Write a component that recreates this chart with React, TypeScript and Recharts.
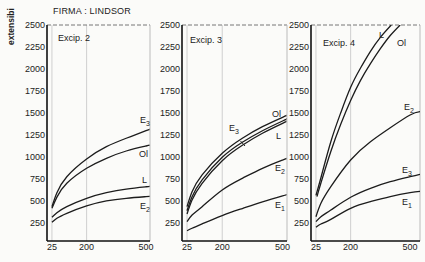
import React from 'react';
import { LineChart, Line, XAxis, YAxis, ReferenceLine } from 'recharts';

const FONT = "'Liberation Sans', Arial, sans-serif";

const yTicks = [250, 500, 750, 1000, 1250, 1500, 1750, 2000, 2250, 2500];
const xTicks = [25, 200, 500];

// Excip. 2
const xs2 = [25, 50, 100, 200, 300, 400, 500, 520];
const e3_2 = [431, 590, 772, 974, 1114, 1210, 1296, 1312];
const ol_2 = [412, 540, 697, 868, 982, 1065, 1122, 1133];
const l_2 = [310, 362, 431, 526, 590, 632, 658, 663];
const e2_2 = [253, 299, 355, 439, 496, 526, 545, 549];

// Excip. 3
const xs3 = [25, 50, 100, 200, 300, 400, 500, 520];
const ol_3 = [431, 601, 792, 1039, 1210, 1342, 1449, 1470];
const e3_3 = [385, 545, 735, 993, 1164, 1296, 1407, 1428];
const l_3 = [348, 507, 697, 955, 1130, 1267, 1380, 1401];
const e2_3 = [260, 336, 431, 621, 754, 868, 962, 980];
const e1_3 = [157, 185, 234, 330, 410, 485, 553, 566];

// Excip. 4
const xs4 = [25, 50, 100, 200, 300, 400, 500, 550];
const e1_4 = [196, 234, 287, 412, 488, 545, 590, 606];
const e3_4 = [260, 317, 393, 538, 640, 715, 772, 800];
const e2_4 = [317, 469, 658, 962, 1171, 1330, 1475, 1513];
const xsL4 = [25, 50, 100, 150, 200, 250, 300, 350, 405];
const l_4 = [560, 760, 1170, 1500, 1790, 2010, 2200, 2360, 2500];
const xsOl4 = [30, 50, 100, 150, 200, 250, 300, 350, 400, 450];
const ol_4 = [545, 700, 1060, 1370, 1640, 1870, 2060, 2230, 2380, 2500];

const pts = (xs: number[], ys: number[]) => xs.map((x, i) => ({ x, y: ys[i] }));

type PanelProps = {
  left: number;
  width: number;
  yAxisWidth: number;
  rightMargin: number;
  xMax: number;
  series: { x: number; y: number }[][];
};

function Panel({ left, width, yAxisWidth, rightMargin, xMax, series }: PanelProps) {
  const tickStyle = { fontSize: 9, fill: '#222', fontFamily: FONT };
  return (
    <div style={{ position: 'absolute', left, top: 0 }}>
      <LineChart width={width} height={262} margin={{ top: 25, right: rightMargin, bottom: 0, left: 0 }}>
        <XAxis
          type="number"
          dataKey="x"
          domain={[0, xMax]}
          ticks={xTicks}
          interval={0}
          allowDataOverflow
          height={21}
          tickLine={false}
          tickSize={0}
          tickMargin={3}
          axisLine={{ stroke: '#111', strokeWidth: 1.6 }}
          tick={tickStyle}
        />
        <YAxis
          type="number"
          domain={[40, 2500]}
          ticks={yTicks}
          interval={0}
          allowDataOverflow
          width={yAxisWidth}
          tickLine={false}
          tickSize={0}
          tickMargin={2}
          axisLine={{ stroke: '#111', strokeWidth: 1.6 }}
          tick={tickStyle}
        />
        <ReferenceLine x={25} stroke="#cfcfcf" />
        <ReferenceLine x={200} stroke="#cfcfcf" />
        <ReferenceLine y={2500} stroke="#777" strokeDasharray="4 2" />
        <ReferenceLine x={xMax} stroke="#bbb" />
        {series.map((s, i) => (
          <Line
            key={i}
            data={s}
            dataKey="y"
            type="natural"
            stroke="#1c1c1c"
            strokeWidth={1.3}
            dot={false}
            isAnimationActive={false}
          />
        ))}
      </LineChart>
    </div>
  );
}

function Sub({ x, y, base, sub }: { x: number; y: number; base: string; sub?: string }) {
  return (
    <text x={x} y={y} fontSize={9} fill="#222" fontFamily={FONT}>
      {base}
      {sub ? (
        <tspan fontSize={7} dy={3}>
          {sub}
        </tspan>
      ) : null}
    </text>
  );
}

export default function App() {
  return (
    <div style={{ position: 'absolute', left: 0, top: 0, width: 425, height: 262, background: '#fbfbf9', overflow: 'hidden' }}>
      <Panel
        left={0}
        width={160}
        yAxisWidth={47}
        rightMargin={10}
        xMax={520}
        series={[pts(xs2, e3_2), pts(xs2, ol_2), pts(xs2, l_2), pts(xs2, e2_2)]}
      />
      <Panel
        left={140}
        width={155}
        yAxisWidth={42}
        rightMargin={8}
        xMax={522}
        series={[pts(xs3, ol_3), pts(xs3, e3_3), pts(xs3, l_3), pts(xs3, e2_3), pts(xs3, e1_3)]}
      />
      <Panel
        left={280}
        width={145}
        yAxisWidth={31}
        rightMargin={5}
        xMax={550}
        series={[pts(xs4, e1_4), pts(xs4, e3_4), pts(xs4, e2_4), pts(xsL4, l_4), pts(xsOl4, ol_4)]}
      />
      <svg width={425} height={262} style={{ position: 'absolute', left: 0, top: 0, pointerEvents: 'none' }}>
        <text x={53} y={14} fontSize={9} letterSpacing={0.2} fill="#222" fontFamily={FONT}>
          FIRMA : LINDSOR
        </text>
        <text
          x={14}
          y={45}
          transform="rotate(-90 14 45)"
          fontSize={8.5}
          fontWeight={600}
          fill="#222"
          fontFamily={FONT}
        >
          extensibi
        </text>
        <text x={58} y={41} fontSize={9} fill="#222" fontFamily={FONT}>Excip. 2</text>
        <text x={190} y={43} fontSize={9} fill="#222" fontFamily={FONT}>Excip. 3</text>
        <text x={323} y={46} fontSize={9} fill="#222" fontFamily={FONT}>Excip. 4</text>

        <Sub x={140} y={123} base="E" sub="3" />
        <Sub x={139} y={157} base="Ol" />
        <Sub x={142} y={183} base="L" />
        <Sub x={140} y={209} base="E" sub="2" />

        <Sub x={272} y={117} base="Ol" />
        <Sub x={276} y={139} base="L" />
        <Sub x={229} y={131} base="E" sub="3" />
        <line x1={240.5} y1={141} x2={245} y2={146} stroke="#222" strokeWidth={1} />
        <Sub x={275} y={171} base="E" sub="2" />
        <Sub x={275} y={208} base="E" sub="1" />

        <Sub x={379} y={38} base="L" />
        <Sub x={397} y={46} base="Ol" />
        <Sub x={404} y={110} base="E" sub="2" />
        <Sub x={402} y={173} base="E" sub="3" />
        <Sub x={402} y={205} base="E" sub="1" />
      </svg>
    </div>
  );
}
